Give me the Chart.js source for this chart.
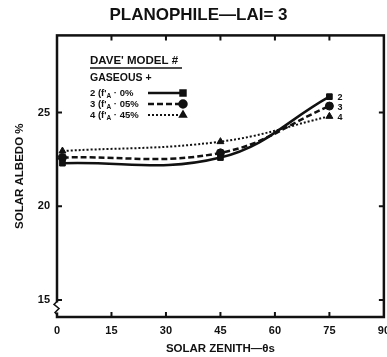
<!DOCTYPE html>
<html>
<head>
<meta charset="utf-8">
<script src="https://cdn.jsdelivr.net/npm/chart.js@4.4.1/dist/chart.umd.min.js"></script>
<style>
  html, body { margin: 0; padding: 0; background: #fff; overflow: hidden; }
  #wrap { width: 397px; height: 357px; }
</style>
</head>
<body>
<div id="wrap"><canvas id="chart-albedo" width="397" height="357"></canvas></div>
<script>
const zenith = [1.5, 45, 75];
const albedoModel2 = [22.3, 22.6, 25.85];
const albedoModel3 = [22.6, 22.85, 25.35];
const albedoModel4 = [22.95, 23.45, 24.8];
const xTicks = [0, 15, 30, 45, 60, 75, 90];
const yTicks = [15, 20, 25];
const seriesNames = [`2`, `3`, `4`];
const legendRows = [
  [`2 (f'`, `A`, ` · 0%`],
  [`3 (f'`, `A`, ` · 05%`],
  [`4 (f'`, `A`, ` · 45%`],
];

const INK = `#111`;
const FONT = `"Liberation Sans", Arial, sans-serif`;

function toPoints(ys) {
  return zenith.map((x, i) => ({ x: x, y: ys[i] }));
}

// frame, inner ticks, axis break, legend box, end labels
const paperPlugin = {
  id: `paper`,
  afterDraw(chart) {
    const ctx = chart.ctx;
    const area = chart.chartArea;
    const xs = chart.scales.x;
    const ys = chart.scales.y;
    ctx.save();
    ctx.strokeStyle = INK;
    ctx.fillStyle = INK;

    // frame
    ctx.lineWidth = 2.5;
    ctx.strokeRect(area.left, area.top, area.right - area.left, area.bottom - area.top);

    // inner ticks
    ctx.lineWidth = 2;
    xTicks.slice(1, -1).forEach(v => {
      const px = xs.getPixelForValue(v);
      ctx.beginPath();
      ctx.moveTo(px, area.bottom);
      ctx.lineTo(px, area.bottom - 5);
      ctx.moveTo(px, area.top);
      ctx.lineTo(px, area.top + 5);
      ctx.stroke();
    });
    yTicks.forEach(v => {
      const py = ys.getPixelForValue(v);
      ctx.beginPath();
      ctx.moveTo(area.left, py);
      ctx.lineTo(area.left + 5, py);
      ctx.moveTo(area.right, py);
      ctx.lineTo(area.right - 5, py);
      ctx.stroke();
    });

    // axis break below 15
    const yb = ys.getPixelForValue(14.6);
    ctx.fillStyle = `#fff`;
    ctx.fillRect(area.left - 2, yb - 5, 4, 10);
    ctx.lineWidth = 1.5;
    ctx.beginPath();
    ctx.moveTo(area.left, yb - 6);
    ctx.lineTo(area.left - 3, yb - 3);
    ctx.lineTo(area.left + 2, yb + 1);
    ctx.lineTo(area.left - 2, yb + 5);
    ctx.lineTo(area.left, yb + 7);
    ctx.stroke();
    ctx.fillStyle = INK;

    // legend block
    const lx = 90;
    ctx.textBaseline = `middle`;
    ctx.textAlign = `left`;
    ctx.font = `bold 11.5px ${FONT}`;
    ctx.fillText(`DAVE' MODEL #`, lx, 61);
    ctx.lineWidth = 1.5;
    ctx.beginPath();
    ctx.moveTo(lx, 68);
    ctx.lineTo(lx + 92, 68);
    ctx.stroke();
    ctx.font = `bold 10.5px ${FONT}`;
    ctx.fillText(`GASEOUS +`, lx, 78);

    chart.data.datasets.forEach((ds, i) => {
      const ry = 93 + i * 11;
      const parts = legendRows[i];
      ctx.font = `bold 9.5px ${FONT}`;
      let cx = lx;
      ctx.fillText(parts[0], cx, ry);
      cx += ctx.measureText(parts[0]).width;
      ctx.font = `bold 6.5px ${FONT}`;
      ctx.fillText(parts[1], cx, ry + 3);
      cx += ctx.measureText(parts[1]).width;
      ctx.font = `bold 9.5px ${FONT}`;
      ctx.fillText(parts[2], cx, ry);

      ctx.lineWidth = ds.borderWidth;
      ctx.setLineDash(ds.borderDash || []);
      ctx.beginPath();
      ctx.moveTo(148, ry);
      ctx.lineTo(180, ry);
      ctx.stroke();
      ctx.setLineDash([]);
      Chart.helpers.drawPoint(ctx, { pointStyle: ds.pointStyle, radius: 3.5, borderWidth: 1 }, 183, ry);
      ctx.fill();
    });

    // series numbers at the right end
    ctx.font = `bold 9px ${FONT}`;
    chart.data.datasets.forEach((ds, i) => {
      const meta = chart.getDatasetMeta(i);
      const last = meta.data[meta.data.length - 1];
      ctx.fillText(seriesNames[i], last.x + 8, last.y + 1);
    });
    ctx.restore();
  }
};

const lineDefaults = {
  borderColor: INK,
  backgroundColor: INK,
  pointBorderColor: INK,
  pointBackgroundColor: INK,
  pointRadius: 4,
  pointBorderWidth: 1,
  tension: 0.4,
  fill: false,
};

const chartAlbedo = new Chart(document.getElementById(`chart-albedo`), {
  type: `line`,
  data: {
    datasets: [
      Object.assign({ label: seriesNames[0], data: toPoints(albedoModel2), borderWidth: 2.5, pointStyle: `rect` }, lineDefaults),
      Object.assign({ label: seriesNames[1], data: toPoints(albedoModel3), borderWidth: 2.5, borderDash: [6, 3], pointStyle: `circle` }, lineDefaults),
      Object.assign({ label: seriesNames[2], data: toPoints(albedoModel4), borderWidth: 2, borderDash: [2, 2], pointStyle: `triangle` }, lineDefaults),
    ]
  },
  options: {
    responsive: false,
    animation: false,
    devicePixelRatio: 1,
    layout: { padding: { left: 0, right: 0, top: 0, bottom: 0 } },
    plugins: {
      legend: { display: false },
      tooltip: { enabled: false },
      title: {
        display: true,
        text: `PLANOPHILE—LAI= 3`,
        color: INK,
        font: { family: FONT, size: 17, weight: `bold` },
        padding: { top: 5, bottom: 10 },
      },
    },
    scales: {
      x: {
        type: `linear`,
        min: 0,
        max: 90,
        afterBuildTicks: s => { s.ticks = xTicks.map(v => ({ value: v })); },
        afterFit: s => { s.height = 40; },
        grid: { display: false, drawTicks: false, tickLength: 0 },
        border: { display: false },
        ticks: { color: INK, padding: 7, font: { family: FONT, size: 11, weight: `bold` } },
        title: {
          display: true,
          text: `SOLAR ZENITH—θs`,
          color: INK,
          font: { family: FONT, size: 11.5, weight: `bold` },
          padding: { top: 0, bottom: 1 },
        },
      },
      y: {
        type: `linear`,
        min: 14.09,
        max: 29.12,
        afterBuildTicks: s => { s.ticks = yTicks.map(v => ({ value: v })); },
        afterFit: s => { s.width = 57; },
        grid: { display: false, drawTicks: false, tickLength: 0 },
        border: { display: false },
        ticks: { color: INK, padding: 7, font: { family: FONT, size: 11, weight: `bold` } },
        title: {
          display: true,
          text: `SOLAR ALBEDO %`,
          color: INK,
          font: { family: FONT, size: 11.5, weight: `bold` },
          padding: { top: 13, bottom: 0 },
        },
      },
    },
  },
  plugins: [paperPlugin],
});
</script>
</body>
</html>
